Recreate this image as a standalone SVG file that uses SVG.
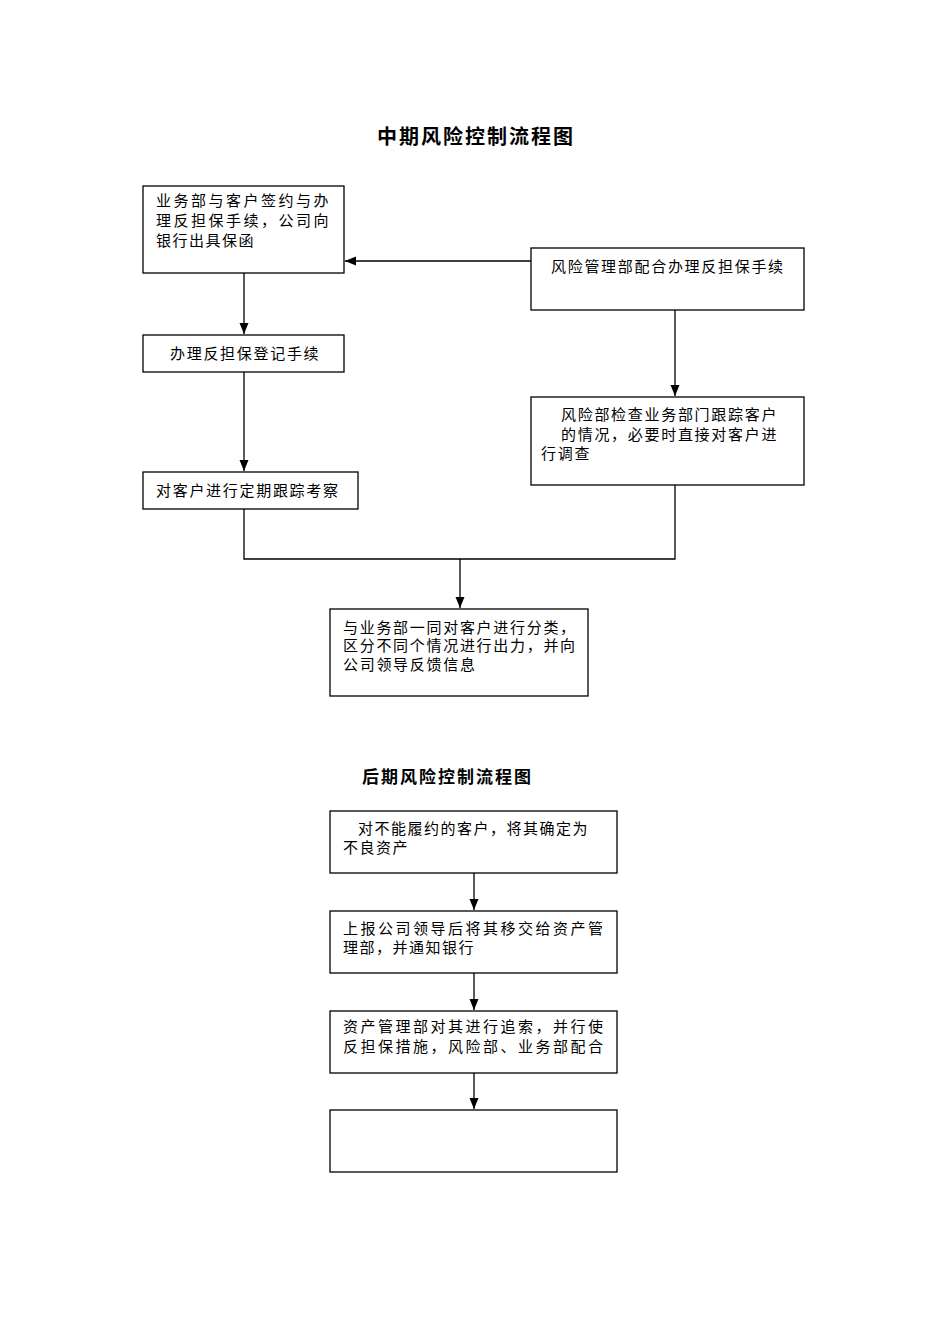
<svg xmlns="http://www.w3.org/2000/svg" width="950" height="1344" viewBox="0 0 950 1344">
<style>
.box{fill:#fff;stroke:#000;stroke-width:1.3}
.t{font-family:"Liberation Serif","Noto Sans CJK SC",serif;font-size:15px;fill:#000;letter-spacing:1.7px}
.w{letter-spacing:2.5px}
.n{letter-spacing:1.5px}
.title{font-family:"Noto Sans CJK SC",sans-serif;font-weight:bold;fill:#000}
.c{fill:none;stroke:#000;stroke-width:1.3}
</style>
<defs>
<marker id="ah" markerWidth="12" markerHeight="12" refX="11" refY="5" orient="auto" markerUnits="userSpaceOnUse">
<path d="M0,0.5 L11,5 L0,9.5 Z" fill="#000"/>
</marker>
</defs>
<rect width="950" height="1344" fill="#fff"/>
<text class="title" x="476" y="144" font-size="20" letter-spacing="2" text-anchor="middle">中期风险控制流程图</text>
<text class="title" x="362" y="783" font-size="17" letter-spacing="2">后期风险控制流程图</text>

<g id="connectors">
<path class="c" d="M531,261 H345" marker-end="url(#ah)"/>
<path class="c" d="M244,273 V334" marker-end="url(#ah)"/>
<path class="c" d="M244,372 V471" marker-end="url(#ah)"/>
<path class="c" d="M675,310 V396" marker-end="url(#ah)"/>
<path class="c" d="M244,509 V559 H675 V485"/>
<path class="c" d="M460,559 V608" marker-end="url(#ah)"/>
<path class="c" d="M474,873 V910" marker-end="url(#ah)"/>
<path class="c" d="M474,973 V1010" marker-end="url(#ah)"/>
<path class="c" d="M474,1073 V1109" marker-end="url(#ah)"/>
</g>

<g id="n1">
<rect class="box" x="143" y="186" width="201" height="87"/>
<text class="t w" x="156" y="206">业务部与客户签约与办</text>
<text class="t w" x="156" y="226">理反担保手续，公司向</text>
<text class="t n" x="156" y="246">银行出具保函</text>
</g>
<g id="n2">
<rect class="box" x="531" y="248" width="273" height="62"/>
<text class="t" x="551" y="272">风险管理部配合办理反担保手续</text>
</g>
<g id="n3">
<rect class="box" x="143" y="335" width="201" height="37"/>
<text class="t" x="170" y="359">办理反担保登记手续</text>
</g>
<g id="n4">
<rect class="box" x="143" y="472" width="215" height="37"/>
<text class="t" x="156" y="496">对客户进行定期跟踪考察</text>
</g>
<g id="n5">
<rect class="box" x="531" y="397" width="273" height="88"/>
<text class="t" x="561" y="420">风险部检查业务部门跟踪客户</text>
<text class="t" x="561" y="440">的情况，必要时直接对客户进</text>
<text class="t" x="541" y="459">行调查</text>
</g>
<g id="n6">
<rect class="box" x="330" y="609" width="258" height="87"/>
<text class="t" x="343" y="633">与业务部一同对客户进行分类，</text>
<text class="t" x="343" y="651">区分不同个情况进行出力，并向</text>
<text class="t" x="343" y="670">公司领导反馈信息</text>
</g>
<g id="n7">
<rect class="box" x="330" y="811" width="287" height="62"/>
<text class="t n" x="358" y="834">对不能履约的客户，将其确定为</text>
<text class="t n" x="343" y="853">不良资产</text>
</g>
<g id="n8">
<rect class="box" x="330" y="911" width="287" height="62"/>
<text class="t w" x="343" y="934">上报公司领导后将其移交给资产管</text>
<text class="t n" x="343" y="953">理部，并通知银行</text>
</g>
<g id="n9">
<rect class="box" x="330" y="1011" width="287" height="62"/>
<text class="t w" x="343" y="1032">资产管理部对其进行追索，并行使</text>
<text class="t w" x="343" y="1052">反担保措施，风险部、业务部配合</text>
</g>
<g id="n10">
<rect class="box" x="330" y="1110" width="287" height="62"/>
</g>
</svg>
